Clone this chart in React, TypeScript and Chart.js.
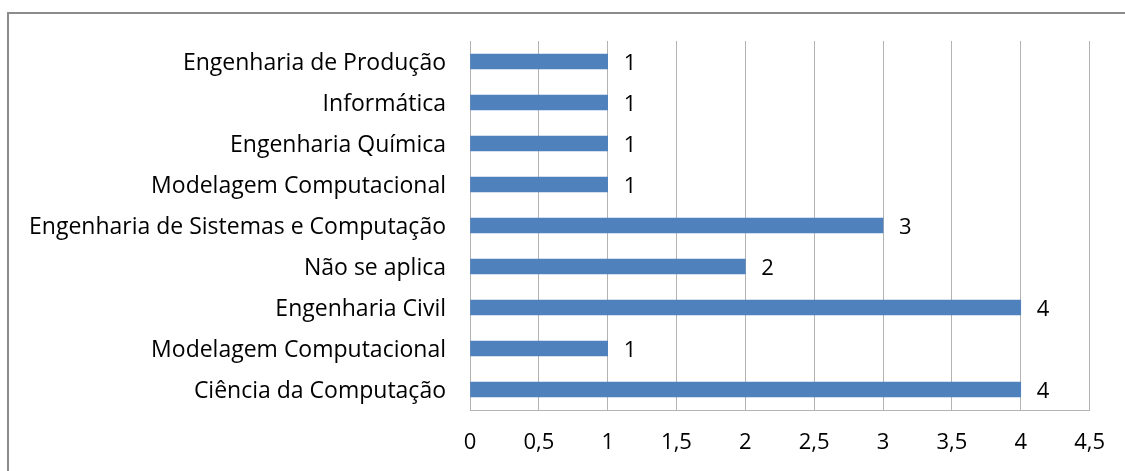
import React, { useEffect, useRef } from "react";
import { Chart, registerables } from "chart.js";

Chart.register(...registerables);

const categories = [
  "Engenharia de Produção",
  "Informática",
  "Engenharia Química",
  "Modelagem Computacional",
  "Engenharia de Sistemas e Computação",
  "Não se aplica",
  "Engenharia Civil",
  "Modelagem Computacional",
  "Ciência da Computação",
];
const values = [1, 1, 1, 1, 3, 2, 4, 1, 4];
const tickStep = 0.5;
const axisMax = 4.5;

const FONT = "'Open Sans', sans-serif";

const valueLabels = {
  id: "valueLabels",
  afterDatasetsDraw(chart: any) {
    const ctx = chart.ctx;
    const meta = chart.getDatasetMeta(0);
    ctx.save();
    ctx.font = `22px ${FONT}`;
    ctx.fillStyle = "#000";
    ctx.textAlign = "left";
    ctx.textBaseline = "middle";
    meta.data.forEach((bar: any, i: number) => {
      ctx.fillText(String(values[i]).replace(".", ","), bar.x + 16, bar.y + 2);
    });
    ctx.restore();
  },
};

export default function App() {
  const ref = useRef<HTMLCanvasElement>(null);
  useEffect(() => {
    const chart = new Chart(ref.current!, {
      type: "bar",
      data: {
        labels: categories,
        datasets: [
          {
            data: values,
            backgroundColor: "#4F81BD",
            borderWidth: 0,
            barThickness: 15,
          },
        ],
      },
      options: {
        indexAxis: "y",
        animation: false,
        responsive: false,
        maintainAspectRatio: false,
        layout: { padding: { top: 41, right: 34, bottom: 0, left: 0 } },
        plugins: { legend: { display: false }, tooltip: { enabled: false } },
        scales: {
          x: {
            min: 0,
            max: axisMax,
            ticks: {
              stepSize: tickStep,
              color: "#000",
              font: { family: FONT, size: 22 },
              padding: 20,
              callback: (v: any) => String(v).replace(".", ","),
            },
            grid: { color: "#b3b3b3", lineWidth: 1, drawTicks: false },
            border: { display: true, color: "#b3b3b3" },
            afterFit: (s: any) => {
              s.height = 61;
            },
          },
          y: {
            ticks: {
              color: "#000",
              font: { family: FONT, size: 23 },
              padding: 24,
              labelOffset: 2,
              autoSkip: false,
            },
            grid: { display: false, drawTicks: false },
            border: { display: true, color: "#b3b3b3" },
            afterFit: (s: any) => {
              s.width = 470;
            },
          },
        },
      },
      plugins: [valueLabels],
    });
    return () => chart.destroy();
  }, []);
  return (
    <div style={{ position: "fixed", left: 0, top: 0, width: 1125, height: 471, background: "#fff" }}>
      <canvas ref={ref} width={1125} height={471} style={{ position: "absolute", left: 0, top: 0 }} />
      <div
        style={{
          position: "absolute",
          left: 7,
          top: 12,
          right: 0,
          bottom: 0,
          borderTop: "2px solid #8c8c8c",
          borderLeft: "2px solid #8c8c8c",
          pointerEvents: "none",
        }}
      />
    </div>
  );
}
